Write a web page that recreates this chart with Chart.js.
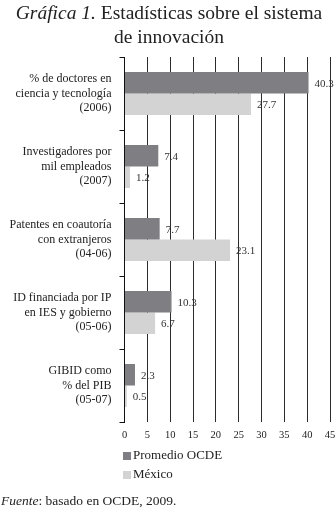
<!DOCTYPE html>
<html lang="es">
<head>
    <meta charset="UTF-8">
    <title>Gráfica 1</title>
    <script src="https://cdn.jsdelivr.net/npm/chart.js"></script>
    <style>
        body {
    margin: 0;
    background-color: #fff;
    font-family: "Liberation Serif", "DejaVu Serif", serif;
    color: #222;
}

#page {
    position: relative;
    width: 335px;
    height: 508px;
    overflow: hidden;
}

#title {
    position: absolute;
    top: 1px;
    left: 0;
    width: 338px;
    text-align: center;
    font-size: 19.5px;
    line-height: 24px;
}

#chart-box {
    position: absolute;
    left: 0;
    top: 0;
    width: 335px;
    height: 508px;
}

#legend {
    position: absolute;
    left: 123px;
    top: 445px;
    font-size: 13px;
}

.leg-item {
    height: 19px;
    line-height: 19px;
    white-space: nowrap;
}

.leg-box {
    display: inline-block;
    width: 8px;
    height: 8px;
    margin-right: 2px;
    vertical-align: -1px;
}

#source {
    position: absolute;
    left: 1px;
    top: 493px;
    font-size: 13.5px;
    white-space: nowrap;
}
    </style>
</head>
<body>
<div id="page">
    <div id="chart-box"><canvas id="innovChart" width="335" height="508"></canvas></div>
    <div id="title"><i>Gráfica 1.</i> Estadísticas sobre el sistema<br>de innovación</div>
    <div id="legend"></div>
    <div id="source"><i>Fuente</i>: basado en OCDE, 2009.</div>
</div>

<script>
    // data
    var categories = [
        ["% de doctores en", "ciencia y tecnología", "(2006)"],
        ["Investigadores por", "mil empleados", "(2007)"],
        ["Patentes en coautoría", "con extranjeros", "(04-06)"],
        ["ID financiada por IP", "en IES y gobierno", "(05-06)"],
        ["GIBID como", "% del PIB", "(05-07)"]
    ];
    var seriesNames = ["Promedio OCDE", "México"];
    var ocdeValues = [40.3, 7.4, 7.7, 10.3, 2.3];
    var mexicoValues = [27.7, 1.2, 23.1, 6.7, 0.5];
    var seriesColors = ["#7f7f83", "#d3d3d3"];
    var xMax = 45;
    var xStep = 5;

    var serif = "'Liberation Serif', 'DejaVu Serif', serif";

    // value labels at the end of each bar
    var valueLabels = {
        id: 'valueLabels',
        afterDatasetsDraw: function(chart) {
            var ctx = chart.ctx;
            ctx.save();
            ctx.font = "11px " + serif;
            ctx.fillStyle = "#333";
            ctx.textBaseline = "middle";
            ctx.textAlign = "left";
            chart.data.datasets.forEach(function(ds, i) {
                chart.getDatasetMeta(i).data.forEach(function(bar, j) {
                    ctx.fillText(ds.data[j].toFixed(1), bar.x + 6, bar.y + 1);
                });
            });
            ctx.restore();
        }
    };

    var ctx = document.getElementById('innovChart').getContext('2d');
    var myChart = new Chart(ctx, {
        type: 'bar',
        data: {
            labels: categories,
            datasets: [{
                label: seriesNames[0],
                data: ocdeValues,
                backgroundColor: seriesColors[0]
            }, {
                label: seriesNames[1],
                data: mexicoValues,
                backgroundColor: seriesColors[1]
            }]
        },
        options: {
            indexAxis: 'y',
            responsive: false,
            animation: false,
            datasets: {
                bar: {
                    categoryPercentage: 0.59,
                    barPercentage: 1.0
                }
            },
            layout: {
                padding: { top: 57, right: 5, left: 0, bottom: 0 }
            },
            plugins: {
                legend: { display: false },
                tooltip: { enabled: false }
            },
            scales: {
                x: {
                    min: 0,
                    max: xMax,
                    afterFit: function(scale) {
                        scale.height = 86;
                        scale.paddingRight = 0;
                        scale.paddingLeft = 0;
                    },
                    ticks: {
                        stepSize: xStep,
                        color: "#222",
                        padding: 7,
                        font: { family: serif, size: 10.5 }
                    },
                    grid: {
                        color: "#2b2b2b",
                        lineWidth: 1,
                        drawTicks: false
                    },
                    border: { display: false }
                },
                y: {
                    afterFit: function(scale) { scale.width = 124.5; },
                    ticks: {
                        color: "#222",
                        padding: 8,
                        font: { family: serif, size: 12, lineHeight: 1.18 }
                    },
                    grid: {
                        offset: true,
                        drawOnChartArea: false,
                        color: "#111",
                        tickLength: 5
                    },
                    border: { display: true, color: "#111", width: 1 }
                }
            }
        },
        plugins: [valueLabels]
    });

    // legend built from the dataset list
    var legendBox = document.getElementById('legend');
    seriesNames.forEach(function(name, i) {
        var row = document.createElement('div');
        row.className = 'leg-item';
        row.innerHTML = '<span class="leg-box" style="background:' + seriesColors[i] + '"></span>' + name;
        legendBox.appendChild(row);
    });
</script>
</body>
</html>
